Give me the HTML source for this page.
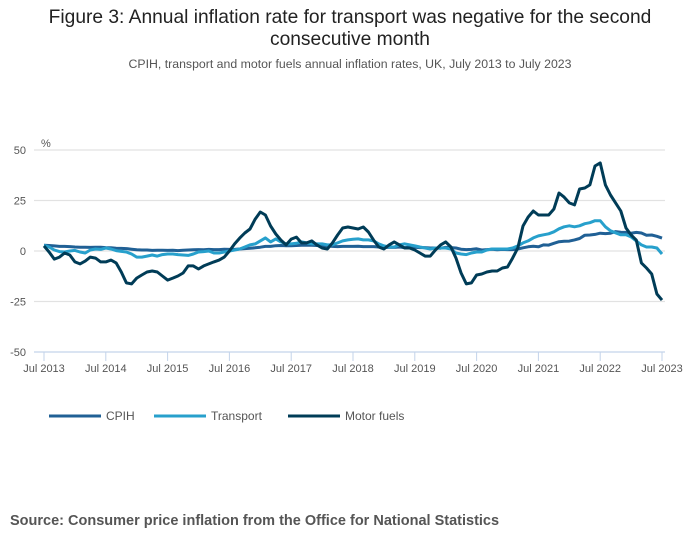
<!DOCTYPE html>
<html><head><meta charset="utf-8"><style>
body{margin:0;background:#fff;font-family:"Liberation Sans",sans-serif;}
#wrap{position:relative;width:700px;height:549px;overflow:hidden;}
.t{position:absolute;left:0;width:700px;text-align:center;color:#222;}
</style></head><body>
<div id="wrap">
<div class="t" style="top:7px;font-size:19.2px;line-height:22px;">Figure 3: Annual inflation rate for transport was negative for the second<br>consecutive month</div>
<div class="t" style="top:57px;font-size:12.3px;color:#555;">CPIH, transport and motor fuels annual inflation rates, UK, July 2013 to July 2023</div>
<svg id="chart" width="700" height="549" style="position:absolute;left:0;top:0"></svg>
<div style="position:absolute;left:10px;top:513px;font-size:14.5px;font-weight:bold;color:#555;">Source: Consumer price inflation from the Office for National Statistics</div>
</div>
<script>
const yTicks=[50,25,0,-25,-50];
const xTickLabels=["Jul 2013","Jul 2014","Jul 2015","Jul 2016","Jul 2017","Jul 2018","Jul 2019","Jul 2020","Jul 2021","Jul 2022","Jul 2023"];
const seriesNames=["CPIH","Transport","Motor fuels"];
const cpih=[2.8,2.7,2.5,2.3,2.3,2.2,2.0,1.9,1.9,1.8,1.9,1.9,
1.7,1.6,1.4,1.3,1.2,0.9,0.6,0.5,0.5,0.3,0.4,0.4,
0.3,0.4,0.2,0.4,0.5,0.6,0.7,0.6,0.8,0.7,0.7,0.9,
0.8,0.8,1.0,1.2,1.4,1.6,1.9,2.3,2.3,2.6,2.7,2.6,
2.6,2.7,2.8,2.8,2.8,2.7,2.7,2.5,2.3,2.2,2.3,2.3,
2.3,2.4,2.2,2.2,2.2,2.0,1.8,1.8,1.8,2.0,1.7,1.8,
1.9,1.7,1.7,1.5,1.5,1.4,1.8,1.7,1.5,0.9,0.7,0.8,
1.1,0.5,0.7,0.9,0.6,0.8,0.7,0.7,1.0,1.6,2.1,2.4,
2.1,3.0,2.9,3.8,4.6,4.8,4.9,5.5,6.2,7.8,7.9,8.2,
8.8,8.6,8.8,9.6,9.3,9.2,8.8,9.2,8.9,7.8,7.9,7.3,6.4];
const transport=[2.8,2.0,0.5,-0.3,-0.5,0.0,0.3,-0.5,-1,0.5,1,0.8,
1.5,1.0,0.2,-0.2,-0.5,-1.5,-3,-3,-2.5,-2,-2.5,-1.8,
-1.5,-1.5,-1.8,-2,-2.2,-1.5,-0.5,-0.3,0,-1,-1,-0.5,
0,0.5,1,2,3,3.5,5,6.5,4.5,6,4.5,3.5,
3.5,3.8,4.5,4,3.5,3.5,3.5,3,3,4,5,5.5,
5.8,6,5.5,5.5,5,3.5,2.5,2,2,3,3.5,3,
2.5,2,1.5,1,1.5,1.5,1.5,1,-1,-1.5,-1.8,-1,
-0.5,-0.5,0.5,1,1,1,1,1.5,2.5,4,5,6.5,
7.5,8,8.5,9.5,11,12,12.5,12,12.5,13.5,14,15,
15,12,10,9,8,8,7,5,3,2,2,1.5,-1.5];
const motorFuels=[2.5,-0.5,-4.0,-3.0,-1.0,-2.0,-5.4,-6.4,-5.0,-3.0,-3.5,-5.4,
-5.4,-4.5,-5.9,-10.4,-15.8,-16.3,-13.4,-11.9,-10.4,-9.9,-10.4,-12.4,
-14.4,-13.4,-12.4,-10.9,-7.4,-7.4,-8.9,-7.4,-6.4,-5.4,-4.5,-3.0,
0,3.5,6.4,8.9,10.9,15.8,19.3,17.8,12.4,8.4,5.4,3.0,
5.9,6.9,4.0,4.0,5.0,3.0,1.5,1.0,4.0,7.9,11.4,11.9,
11.4,10.9,11.9,9.4,5.4,2.0,1.0,3.0,4.5,3.0,1.5,1.5,
0.5,-1.0,-2.5,-2.5,0.5,3.0,4.5,2.0,-3.5,-10.9,-16.3,-15.8,
-11.9,-11.4,-10.4,-9.9,-9.9,-8.4,-7.9,-3.5,1.5,12.4,16.8,19.8,
17.8,17.8,17.8,20.8,28.7,26.7,23.8,22.8,30.7,31.2,32.7,42.1,
43.6,32.7,27.7,23.8,19.8,11.4,7.9,5.4,-5.9,-8.4,-11.4,-21.3,-24.3];
const seriesData=[cpih,transport,motorFuels];
const colors=["#206095","#27a0cc","#003c57"];

const NS="http://www.w3.org/2000/svg";
const svg=document.getElementById('chart');
const x0=44,x1=662,yTop=150,yBot=352;
const xs=m=>x0+(x1-x0)*m/120;
const ys=v=>yBot-(v+50)/100*(yBot-yTop);
function mk(tag,attrs){const e=document.createElementNS(NS,tag);for(const k in attrs)e.setAttribute(k,attrs[k]);svg.appendChild(e);return e;}

yTicks.forEach(v=>{
  const g=mk('line',{x1:34,x2:665,y1:ys(v),y2:ys(v),stroke:v===-50?'#c3d3ea':'#e2e2e2','stroke-width':1.2});
  
  
  const t=mk('text',{x:26,y:ys(v)+4,'text-anchor':'end','font-size':11,fill:'#555','font-family':'Liberation Sans, sans-serif'});
  t.textContent=v;
  
  
});
const pct=mk('text',{x:41,y:147,'font-size':11,fill:'#555','font-family':'Liberation Sans, sans-serif'});
pct.textContent='%';



xTickLabels.forEach((l,i)=>{
  const x=xs(i*12);
  const tk=mk('line',{x1:x,x2:x,y1:yBot,y2:yBot+9,stroke:'#c3d3ea','stroke-width':1});
  
  
  const t=mk('text',{x:x,y:372,'text-anchor':'middle','font-size':11,fill:'#555','font-family':'Liberation Sans, sans-serif'});
  t.textContent=l;
  
  
});

seriesData.forEach((arr,si)=>{
  const d=arr.map((v,i)=>(i?'L':'M')+xs(i).toFixed(1)+','+ys(v).toFixed(1)).join('');
  const p=mk('path',{d:d,fill:'none',stroke:colors[si],'stroke-width':3,'stroke-linejoin':'round'});
  
  
});

const legX=[49,154,288];
seriesNames.forEach((n,i)=>{
  const l=mk('line',{x1:legX[i],x2:legX[i]+52,y1:416,y2:416,stroke:colors[i],'stroke-width':3});
  
  
  const t=mk('text',{x:legX[i]+57,y:420,'font-size':12,fill:'#555','font-family':'Liberation Sans, sans-serif'});
  t.textContent=n;
  
  
});
</script>
</body></html>
